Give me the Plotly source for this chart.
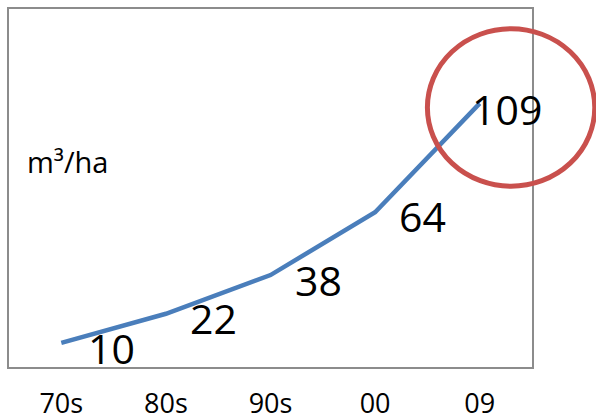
import plotly.graph_objects as go

categories = ["70s", "80s", "90s", "00", "09"]
values = [10, 22, 38, 64, 109]
labels = ["10", "22", "38", "64", "109"]
label_dx = [50, 48, 48, 47, 27]
label_dy = [-5, -4, -5, -4, -6]

idx = list(range(len(categories)))

fig = go.Figure()
fig.add_trace(go.Scatter(
    x=idx, y=values, mode="lines",
    line=dict(color="#4a7ebb", width=4.5),
    hoverinfo="skip", showlegend=False,
))

for i, v, t, dx, dy in zip(idx, values, labels, label_dx, label_dy):
    fig.add_annotation(x=i, y=v, text=t, showarrow=False, xanchor="center", yanchor="middle",
                       xshift=dx, yshift=dy,
                       font=dict(family="Open Sans", size=41, color="#000000"))

fig.add_annotation(xref="paper", yref="paper", x=0.03, y=0.575, text="m³/ha",
                   showarrow=False, xanchor="left", yanchor="middle",
                   font=dict(family="Open Sans", size=29, color="#000000"))

# highlight ellipse
fig.add_shape(type="circle", xref="paper", yref="paper",
              x0=0.80, x1=1.12, y0=0.505, y1=0.945,
              line=dict(color="#c9504d", width=5), fillcolor="rgba(0,0,0,0)", layer="above")

fig.update_layout(
    width=596, height=420,
    margin=dict(l=9, r=64, t=9, b=53),
    paper_bgcolor="white", plot_bgcolor="white",
    xaxis=dict(tickmode="array", tickvals=idx, ticktext=categories,
               range=[-0.5, 4.5], showgrid=False, zeroline=False, automargin=False,
               showline=True, linecolor="#8c8c8c", linewidth=2, mirror=True,
               ticks="", ticklabelstandoff=12,
               tickfont=dict(family="Open Sans", size=27, color="#000000")),
    yaxis=dict(range=[0, 148], showgrid=False, zeroline=False, showticklabels=False,
               automargin=False,
               showline=True, linecolor="#8c8c8c", linewidth=2, mirror=True, ticks=""),
)

fig.write_html("out.html")
